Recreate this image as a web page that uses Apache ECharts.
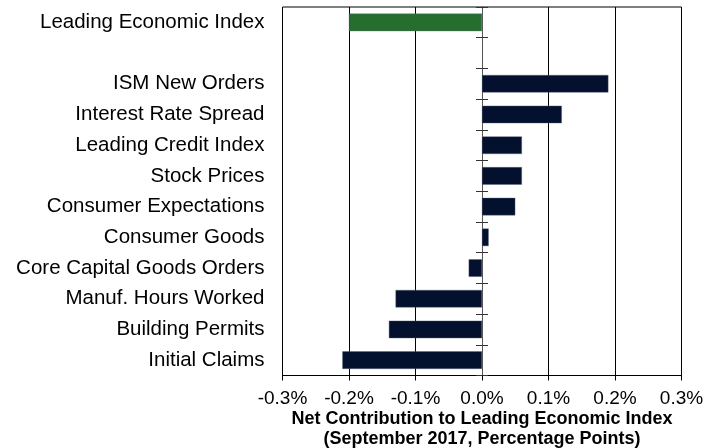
<!DOCTYPE html>
<html>
<head>
<meta charset="utf-8">
<script src="https://cdn.jsdelivr.net/npm/echarts@6/dist/echarts.min.js"></script>
<style>
html,body{margin:0;padding:0;background:#fff;}
#chart{width:718px;height:448px;}
</style>
</head>
<body>
<div id="chart"></div>
<script>
const categories = ['Leading Economic Index', '', 'ISM New Orders', 'Interest Rate Spread', 'Leading Credit Index', 'Stock Prices', 'Consumer Expectations', 'Consumer Goods', 'Core Capital Goods Orders', 'Manuf. Hours Worked', 'Building Permits', 'Initial Claims'];
const values = [-0.20, null, 0.19, 0.12, 0.06, 0.06, 0.05, 0.01, -0.02, -0.13, -0.14, -0.21];
const xTicks = [-0.3, -0.2, -0.1, 0.0, 0.1, 0.2, 0.3];
const xTitle = 'Net Contribution to Leading Economic Index\n(September 2017, Percentage Points)';

const FONT = '"Liberation Sans", Arial, sans-serif';
const chart = echarts.init(document.getElementById('chart'), null, {renderer: 'canvas'});
chart.setOption({
  animation: false,
  grid: {left: 282.5, right: 36.5, top: 7, bottom: 72.5, show: true, borderColor: '#000', borderWidth: 1,
         containLabel: false, outerBoundsMode: 'none'},
  xAxis: {
    type: 'value', min: xTicks[0], max: xTicks[xTicks.length - 1], interval: 0.1,
    axisLine: {show: true, onZero: false, lineStyle: {color: '#000'}},
    axisTick: {show: true, length: 5, lineStyle: {color: '#000'}},
    splitLine: {show: true, lineStyle: {color: '#000', width: 1}},
    axisLabel: {
      fontFamily: FONT, fontSize: 19, color: '#000', margin: 14,
      formatter: v => (Math.abs(v) < 1e-9 ? 0 : v).toFixed(1) + '%'
    },
    name: xTitle, nameLocation: 'middle', nameGap: 34, nameMoveOverlap: false,
    nameTextStyle: {fontFamily: FONT, fontSize: 18, fontWeight: 'bold', color: '#000', lineHeight: 20}
  },
  yAxis: [
    {
      type: 'category', data: categories, inverse: true, position: 'left',
      axisLine: {show: false, onZero: false}, axisTick: {show: false},
      axisLabel: {fontFamily: FONT, fontSize: 20.5, color: '#000', margin: 18}
    },
    {
      type: 'category', data: categories, inverse: true, position: 'left',
      axisLine: {show: true, onZero: true, onZeroAxisIndex: 0, lineStyle: {color: '#555'}},
      axisTick: {show: true, inside: false, length: 6, lineStyle: {color: '#333'}},
      axisLabel: {show: false}
    },
    {
      type: 'category', data: categories, inverse: true, position: 'left',
      axisLine: {show: true, onZero: true, onZeroAxisIndex: 0, lineStyle: {color: '#555'}},
      axisTick: {show: true, inside: true, length: 6, lineStyle: {color: '#333'}},
      axisLabel: {show: false}
    }
  ],
  series: [{
    type: 'bar', yAxisIndex: 0, data: values, barWidth: 17.5,
    itemStyle: {
      color: p => p.dataIndex === 0 ? '#266e2e' : '#03112e',
      borderColor: '#5a6478', borderWidth: 0.4
    }
  }]
});
</script>
</body>
</html>
